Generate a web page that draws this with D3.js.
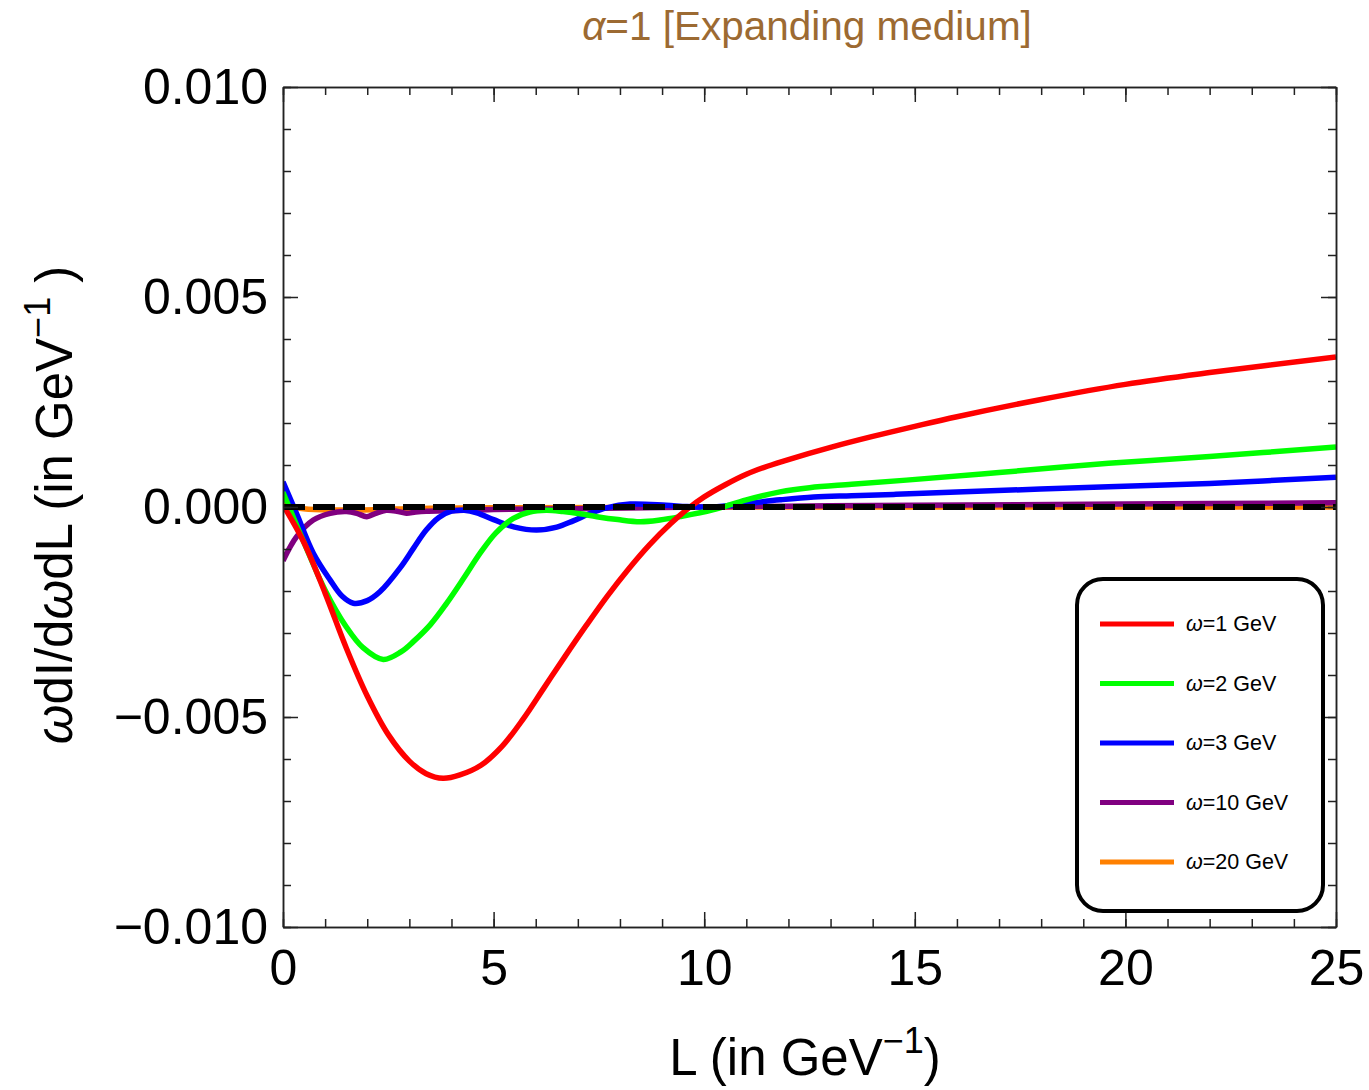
<!DOCTYPE html>
<html>
<head>
<meta charset="utf-8">
<style>
  body { margin: 0; background: #fff; }
  svg { display: block; font-family: "Liberation Sans", Arial, sans-serif; }
</style>
</head>
<body>
<div id="chart"></div>
<script src="https://d3js.org/d3.v7.min.js"></script>
<script>
// values, y in units of 1e-3
const lRed = [0, 0.5, 1, 1.5, 2, 2.5, 3, 3.4, 3.8, 4.2, 4.7, 5.2, 5.7, 6.2, 6.7, 7.2, 7.7, 8.2, 8.7, 9.2, 9.6, 10, 10.5, 11, 11.5, 12, 13, 14, 15, 16, 18, 20, 22, 25];
const vRed = [0.05, -0.85, -2.05, -3.35, -4.5, -5.42, -6.05, -6.35, -6.46, -6.38, -6.15, -5.7, -5.05, -4.3, -3.55, -2.82, -2.12, -1.48, -0.9, -0.4, -0.05, 0.24, 0.53, 0.78, 0.97, 1.13, 1.42, 1.68, 1.92, 2.15, 2.56, 2.92, 3.2, 3.57];

const lGreen = [0, 0.5, 1, 1.5, 1.9, 2.38, 2.8, 3.1, 3.5, 3.88, 4.3, 4.68, 5.05, 5.47, 5.86, 6.25, 6.65, 7.05, 7.45, 7.95, 8.48, 8.95, 9.43, 10.2, 11, 11.8, 12.5, 13.5, 14.8, 17, 19.6, 22, 25];
const vGreen = [0.35, -0.85, -1.98, -2.85, -3.35, -3.63, -3.45, -3.2, -2.8, -2.3, -1.68, -1.1, -0.62, -0.27, -0.12, -0.08, -0.11, -0.16, -0.23, -0.3, -0.35, -0.31, -0.23, -0.07, 0.17, 0.36, 0.46, 0.54, 0.64, 0.82, 1.04, 1.2, 1.43];

const lBlue = [0, 0.32, 0.72, 1.12, 1.4, 1.67, 2.0, 2.3, 2.78, 3.1, 3.4, 3.7, 4.0, 4.3, 4.6, 5.0, 5.5, 6.02, 6.5, 6.89, 7.3, 7.68, 8.24, 9.1, 9.6, 10.2, 11, 11.8, 12.6, 13.5, 14.5, 16, 19.6, 22, 25];
const vBlue = [0.6, -0.15, -1.1, -1.74, -2.12, -2.29, -2.23, -2.02, -1.45, -0.98, -0.55, -0.25, -0.1, -0.08, -0.14, -0.3, -0.48, -0.55, -0.48, -0.33, -0.15, -0.02, 0.07, 0.04, 0.01, 0.0, 0.08, 0.17, 0.24, 0.27, 0.3, 0.36, 0.48, 0.56, 0.71];

const lPurple = [0, 0.32, 0.72, 1.12, 1.51, 1.75, 1.99, 2.2, 2.45, 2.7, 2.93, 3.15, 3.4, 3.9, 5, 7, 9, 12, 15, 20, 25];
const vPurple = [-1.28, -0.71, -0.31, -0.15, -0.11, -0.15, -0.23, -0.15, -0.08, -0.1, -0.15, -0.12, -0.1, -0.09, -0.06, -0.04, -0.01, 0.02, 0.04, 0.07, 0.1];

const lOrange = [0, 0.4, 1, 1.8, 2.6, 3.5, 5, 8, 12, 25];
const vOrange = [0.08, -0.03, -0.07, -0.07, -0.05, -0.03, -0.02, -0.01, 0, 0];

const lZero = [0, 25];
const vZero = [0, 0];

const seriesNames = ["ω=1 GeV", "ω=2 GeV", "ω=3 GeV", "ω=10 GeV", "ω=20 GeV"];
const seriesColors = ["#ff0000", "#00ff00", "#0000ff", "#800080", "#ff8000"];

const xMajor = [0, 5, 10, 15, 20, 25];
const xMinor = d3.range(0, 26, 1);
const yMajor = [-0.010, -0.005, 0, 0.005, 0.010];
const yMinor = d3.range(-10, 11, 1).map(d => d / 1000);

const W = 1369, H = 1090;
const margin = { top: 87, right: 33, bottom: 163, left: 283 };
const width = W - margin.left - margin.right;
const height = H - margin.top - margin.bottom;

const svg = d3.select("#chart").append("svg")
    .attr("width", W)
    .attr("height", H);

const x = d3.scaleLinear().domain([0, 25]).range([0, width]);
const y = d3.scaleLinear().domain([-0.010, 0.010]).range([height, 0]);

const g = svg.append("g").attr("transform", `translate(${margin.left},${margin.top})`);

g.append("clipPath").attr("id", "clip")
    .append("rect").attr("width", width).attr("height", height);

const toPts = (ls, vs) => ls.map((l, i) => [l, vs[i] / 1000]);
const series = [
    toPts(lRed, vRed),
    toPts(lGreen, vGreen),
    toPts(lBlue, vBlue),
    toPts(lPurple, vPurple),
    toPts(lOrange, vOrange)
];

const line = d3.line()
    .x(d => x(d[0]))
    .y(d => y(d[1]))
    .curve(d3.curveCatmullRom.alpha(0.5));

const plot = g.append("g").attr("clip-path", "url(#clip)");

// draw back to front: the first series ends up on top
series.slice().reverse().forEach((s, i) => {
    plot.append("path")
        .datum(s)
        .attr("d", line)
        .attr("fill", "none")
        .attr("stroke", seriesColors[series.length - 1 - i])
        .attr("stroke-width", 5.5)
        .attr("stroke-linejoin", "round");
});

plot.append("path")
    .datum(toPts(lZero, vZero))
    .attr("d", line)
    .attr("fill", "none")
    .attr("stroke", "#000")
    .attr("stroke-width", 6)
    .attr("stroke-dasharray", "22,8");

// frame axes, ticks pointing inward
const frameColor = "#222";
function styleAxis(sel) {
    sel.select(".domain").attr("stroke", frameColor).attr("stroke-width", 1.5);
    sel.selectAll(".tick line").attr("stroke", frameColor).attr("stroke-width", 1.5);
    sel.selectAll("text").attr("fill", "#000").style("font-size", "50px");
}

g.append("g").attr("transform", `translate(0,${height})`)
    .call(d3.axisBottom(x).tickValues(xMinor).tickSize(-8).tickFormat("").tickSizeOuter(0))
    .call(styleAxis);
g.append("g").attr("transform", `translate(0,${height})`)
    .call(d3.axisBottom(x).tickValues(xMajor).tickSize(-15).tickPadding(22).tickFormat(d3.format("d")).tickSizeOuter(0))
    .call(styleAxis);
g.append("g")
    .call(d3.axisTop(x).tickValues(xMinor).tickSize(-8).tickFormat("").tickSizeOuter(0))
    .call(styleAxis);
g.append("g")
    .call(d3.axisTop(x).tickValues(xMajor).tickSize(-15).tickFormat("").tickSizeOuter(0))
    .call(styleAxis);

g.append("g")
    .call(d3.axisLeft(y).tickValues(yMinor).tickSize(-8).tickFormat("").tickSizeOuter(0))
    .call(styleAxis);
g.append("g")
    .call(d3.axisLeft(y).tickValues(yMajor).tickSize(-15).tickPadding(15).tickFormat(d3.format(".3f")).tickSizeOuter(0))
    .call(styleAxis);
g.append("g").attr("transform", `translate(${width},0)`)
    .call(d3.axisRight(y).tickValues(yMinor).tickSize(-8).tickFormat("").tickSizeOuter(0))
    .call(styleAxis);
g.append("g").attr("transform", `translate(${width},0)`)
    .call(d3.axisRight(y).tickValues(yMajor).tickSize(-15).tickFormat("").tickSizeOuter(0))
    .call(styleAxis);

// title
const title = svg.append("text")
    .attr("x", 807).attr("y", 40)
    .attr("text-anchor", "middle")
    .attr("fill", "#9c6a32")
    .style("font-size", "40.5px");
title.append("tspan").style("font-style", "italic").text("α");
title.append("tspan").text("=1 [Expanding medium]");

// x label
const xl = svg.append("text")
    .attr("x", 805).attr("y", 1075)
    .attr("text-anchor", "middle")
    .style("font-size", "51px");
xl.append("tspan").text("L (in GeV");
xl.append("tspan").attr("dy", -22).style("font-size", "36px").text("−1");
xl.append("tspan").attr("dy", 22).text(")");

// y label
const yl = svg.append("text")
    .attr("transform", `translate(72,${margin.top + height / 2 - 2}) rotate(-90)`)
    .attr("text-anchor", "middle")
    .style("font-size", "51px");
yl.append("tspan").style("font-style", "italic").text("ω");
yl.append("tspan").text("dI/d");
yl.append("tspan").style("font-style", "italic").text("ω");
yl.append("tspan").text("dL (in GeV");
yl.append("tspan").attr("dy", -22).style("font-size", "36px").text("−1");
yl.append("tspan").attr("dy", 22).text(" )");

// legend
const legend = svg.append("g").attr("transform", "translate(1077,579)");
legend.append("rect")
    .attr("width", 246).attr("height", 332)
    .attr("rx", 26).attr("ry", 26)
    .attr("fill", "#fff")
    .attr("stroke", "#000")
    .attr("stroke-width", 4);

const legendY = d3.scalePoint().domain(seriesNames).range([45, 283]);
seriesNames.forEach((name, i) => {
    const row = legend.append("g").attr("transform", `translate(0,${legendY(name)})`);
    row.append("line")
        .attr("x1", 23).attr("x2", 97)
        .attr("stroke", seriesColors[i])
        .attr("stroke-width", 5);
    const t = row.append("text")
        .attr("x", 109).attr("y", 7)
        .style("font-size", "21.5px");
    t.append("tspan").style("font-style", "italic").text("ω");
    t.append("tspan").text(name.slice(1));
});
</script>
</body>
</html>
